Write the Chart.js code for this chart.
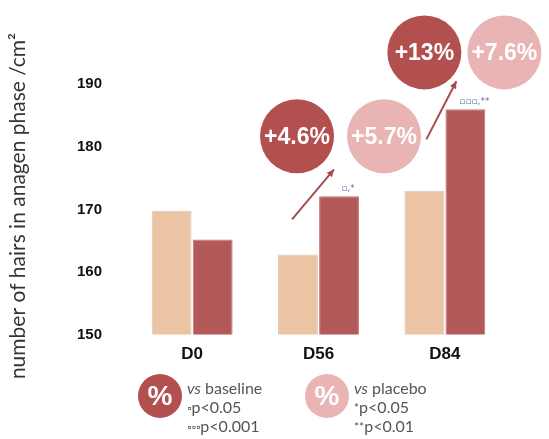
<!DOCTYPE html>
<html lang="en">
<head>
<meta charset="UTF-8">
<title>Anagen hairs</title>
<script src="https://cdn.jsdelivr.net/npm/chart.js"></script>
<style>
  html, body { margin: 0; padding: 0; background: #fff; }
  #wrap { width: 549px; height: 439px; position: relative; }
</style>
</head>
<body>
<div id="wrap"><canvas id="chart"></canvas></div>
<script>
// data
const days = ['D0', 'D56', 'D84'];
const placebo = [169.8, 162.8, 173.0];
const product = [165.2, 172.1, 186.0];
const yTicks = [150, 160, 170, 180, 190];
const yTitle = 'number of hairs in anagen phase /cm\u00B2';
const sigLabels = ['', '\u25AB,*', '\u25AB\u25AB\u25AB,**'];
// circle annotations: vs baseline / vs placebo for each day (D0 has none)
const vsBaseline = [null, '+4.6%', '+13%'];
const vsPlacebo = [null, '+5.7%', '+7.6%'];

const DARK = '#b3595a';
const LIGHT = '#ebc4a4';
const CIRCLE_DARK = '#b24f4f';
const CIRCLE_LIGHT = '#e9b5b4';

const extras = {
  id: 'extras',
  afterDatasetsDraw(chart) {
    const ctx = chart.ctx;
    const y = chart.scales.y;
    const bars = chart.getDatasetMeta(1).data;
    ctx.save();

    // y axis title, centred lower than the plot area like the original
    ctx.save();
    ctx.translate(18, 206);
    ctx.rotate(-Math.PI / 2);
    ctx.fillStyle = '#333';
    ctx.font = '21px "Lato", "Open Sans"';
    ctx.textAlign = 'center';
    ctx.textBaseline = 'middle';
    ctx.fillText(yTitle, 0, 0);
    ctx.restore();

    // significance marks above product bars
    ctx.fillStyle = '#5a6fa8';
    ctx.font = '9px "DejaVu Sans"';
    ctx.textAlign = 'center';
    ctx.textBaseline = 'bottom';
    bars.forEach((b, i) => {
      if (sigLabels[i]) ctx.fillText(sigLabels[i], b.x + 9, b.y - 3);
    });

    function circle(cx, cy, r, color, text, size) {
      ctx.beginPath();
      ctx.arc(cx, cy, r, 0, Math.PI * 2);
      ctx.fillStyle = color;
      ctx.fill();
      ctx.fillStyle = '#fff';
      ctx.font = 'bold ' + size + 'px "Liberation Sans", Arial';
      ctx.textAlign = 'center';
      ctx.textBaseline = 'middle';
      ctx.fillText(text, cx, cy + 1);
    }

    function arrow(x1, y1, x2, y2) {
      ctx.strokeStyle = '#a44c4f';
      ctx.fillStyle = '#a44c4f';
      ctx.lineWidth = 2;
      ctx.beginPath();
      ctx.moveTo(x1, y1);
      ctx.lineTo(x2, y2);
      ctx.stroke();
      const a = Math.atan2(y2 - y1, x2 - x1);
      ctx.beginPath();
      ctx.moveTo(x2, y2);
      ctx.lineTo(x2 - 8 * Math.cos(a - 0.45), y2 - 8 * Math.sin(a - 0.45));
      ctx.lineTo(x2 - 8 * Math.cos(a + 0.45), y2 - 8 * Math.sin(a + 0.45));
      ctx.closePath();
      ctx.fill();
    }

    // D56 annotation
    const b1 = bars[1];
    const cy1 = y.getPixelForValue(181.7);
    arrow(b1.x - 47, y.getPixelForValue(168.4), b1.x - 5, y.getPixelForValue(176.4));
    circle(b1.x - 42, cy1, 37, CIRCLE_DARK, vsBaseline[1], 23);
    circle(b1.x + 45, cy1, 37, CIRCLE_LIGHT, vsPlacebo[1], 23);

    // D84 annotation
    const b2 = bars[2];
    const cy2 = y.getPixelForValue(195.1);
    arrow(b2.x - 39, y.getPixelForValue(181.2), b2.x - 9, y.getPixelForValue(190.5));
    circle(b2.x - 41, cy2, 37, CIRCLE_DARK, vsBaseline[2], 23);
    circle(b2.x + 39, cy2, 37, CIRCLE_LIGHT, vsPlacebo[2], 23);

    // legend
    const ly = 396;
    circle(160, ly, 22, CIRCLE_DARK, '%', 28);
    circle(327, ly, 22, CIRCLE_LIGHT, '%', 28);
    ctx.fillStyle = '#555';
    ctx.textAlign = 'left';
    ctx.textBaseline = 'middle';
    function legendText(x, lines) {
      lines.forEach((ln, k) => {
        let cx = x;
        ln.forEach(part => {
          ctx.font = (part.it ? 'italic ' : '') + (part.s || 16) + 'px "Lato", "Open Sans"';
          ctx.fillText(part.t, cx, ly - 7 + k * 19);
          cx += ctx.measureText(part.t).width;
        });
      });
    }
    legendText(187, [
      [{ t: 'vs', it: true }, { t: ' baseline' }],
      [{ t: '\u25AB', s: 11 }, { t: 'p<0.05' }],
      [{ t: '\u25AB\u25AB\u25AB', s: 11 }, { t: 'p<0.001' }]
    ]);
    legendText(354, [
      [{ t: 'vs', it: true }, { t: ' placebo' }],
      [{ t: '*', s: 12 }, { t: 'p<0.05' }],
      [{ t: '**', s: 12 }, { t: 'p<0.01' }]
    ]);
    ctx.restore();
  }
};

new Chart(document.getElementById('chart'), {
  type: 'bar',
  data: {
    labels: days,
    datasets: [
      { label: 'Placebo', data: placebo, backgroundColor: LIGHT, borderColor: '#d9c6b8', borderWidth: 1 },
      { label: 'Product', data: product, backgroundColor: DARK, borderColor: '#c07070', borderWidth: 1 }
    ]
  },
  options: {
    responsive: true,
    maintainAspectRatio: false,
    animation: false,
    layout: { padding: { left: 6, right: 41, top: 14, bottom: 72 } },
    plugins: { legend: { display: false }, tooltip: { enabled: false } },
    datasets: { bar: { categoryPercentage: 0.65, barPercentage: 0.97 } },
    scales: {
      x: {
        grid: { display: false },
        border: { display: false },
        ticks: { color: '#111', font: { family: '"Liberation Sans", Arial', size: 17, weight: 'bold' }, padding: 2 }
      },
      y: {
        min: 150,
        max: 199,
        afterBuildTicks(axis) { axis.ticks = yTicks.map(v => ({ value: v })); },
        afterFit(axis) { axis.width = 123; },
        grid: { display: false },
        border: { display: false },
        ticks: { color: '#111', font: { family: '"Liberation Sans", Arial', size: 15, weight: 'bold' }, padding: 19 }
      }
    }
  },
  plugins: [extras]
});
</script>
</body>
</html>
